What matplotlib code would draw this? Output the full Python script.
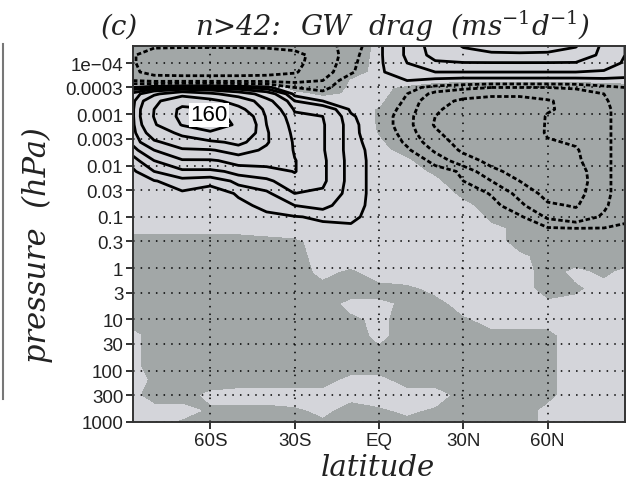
import numpy as np
import matplotlib
matplotlib.use("Agg")
import matplotlib.pyplot as plt
from matplotlib.lines import Line2D

# latitude columns (deg) and pressure rows (hPa)
lat = [-87.5, -80, -70, -60, -50, -40, -30, -20, -10, 0, 10, 20, 30, 40, 50, 60, 70, 80, 87.5]
plev = [4.5e-5, 7e-5, 1e-4, 1.5e-4, 2.2e-4, 3e-4, 4e-4, 5.5e-4, 8e-4, 1.1e-3, 1.6e-3, 2.3e-3,
        3.5e-3, 5e-3, 8e-3, 1.3e-2, 2e-2, 3.5e-2, 6e-2, 0.1, 0.17, 0.3, 0.6, 1.2, 2.5, 5, 10,
        20, 40, 80, 150, 300, 600, 1000]

# zonal mean GW drag (m/s/day), one row per pressure level
gw = [
    [-9, -9, -9, -9, -9, -9, -8, -5.5, -4.5, 1.5, 5.5, 13, 21, 24, 24, 24, 21, 8, 5],
    [-9.5, -13, -14, -14, -14, -13, -12, -7, -3.5, 1.5, 5.5, 12, 16, 18, 18.5, 18, 15, 8, 5],
    [-9.5, -13, -14, -14, -14, -13.5, -11.5, -7, -3, 1.5, 5, 9, 9.5, 9.5, 9.5, 9.5, 9.5, 7, 4.5],
    [-9, -12, -12.5, -12.5, -12.5, -12, -10.5, -6.5, -2.5, 1.5, 4, 5, 5, 5, 5, 5, 5, 4.5, 3.5],
    [-5, -6, -6, -6, -6, -6, -6, -5, 0.2, 1, 2, 1, 0.5, 0.5, 0.5, 0.5, 0.5, 1, 1],
    [2, 4, 5, 5, 4, 3, -2, -3, 0.5, 1, -1, -3, -4, -5, -5, -5, -4.5, -3, -2],
    [12, 35, 60, 45, 28, 14, 1, -1, 0.5, 1, -2, -6, -8, -9, -9, -8, -7, -5, -3],
    [16, 65, 130, 95, 60, 24, 5, 2, 1, 0.5, -2.5, -8, -11, -12, -12, -10.5, -8, -5.5, -3],
    [18, 80, 178, 165, 95, 31, 9, 8, 1.5, -0.3, -3, -9, -13, -14, -14, -10.5, -8.5, -6, -3],
    [18, 82, 182, 200, 130, 36, 12, 10, 2.5, -0.5, -3.5, -10, -14, -15, -15, -9.5, -9, -6, -3],
    [17, 72, 165, 195, 150, 40, 14, 10.5, 3, -0.5, -3.5, -10.5, -14, -15, -14, -9.5, -9, -6, -3],
    [15, 55, 90, 150, 140, 42, 16, 10.5, 3, -0.3, -3, -9, -14, -15, -13.5, -9.5, -9.5, -6, -3],
    [12, 35, 55, 65, 95, 42, 18, 10.5, 3, 0.5, -2.5, -7, -12.5, -15, -14, -10.5, -9.5, -6, -3],
    [7, 20, 36, 38, 50, 36, 19, 10.5, 3, 1, -1.5, -5.5, -11, -14, -14.5, -12, -10.5, -6, -3],
    [3, 10, 18, 18, 25, 25, 20.5, 11, 3.2, 1, 0.5, -3, -7, -12, -15, -14, -11, -6, -3],
    [1.5, 5, 8, 8, 12, 15, 20.5, 11, 3.2, 1, 1, -0.5, -2.5, -8, -13, -15, -12.5, -6, -3],
    [1, 1.8, 3.5, 2.5, 6, 8, 16, 11, 3.2, 1, 1, 0.5, -2, -5, -10, -14, -13, -6, -3],
    [1, 1.5, 1.5, 1, 2.2, 4, 10, 9, 3.2, 1, 1, 1, -0.5, -2.2, -6, -12, -12, -6, -3],
    [1, 1, 1, 1, 1.5, 2.5, 5, 6, 3, 1, 1, 1, 0.5, -1, -4, -9, -10.5, -5.5, -3],
    [0.5, 1, 1, 1, 1, 1.5, 1.8, 2.5, 2.5, 1, 1, 1, 1.5, -0.5, -1.5, -5.5, -7, -4.5, -2.5],
    [0.5, 0.5, 0.5, 0.5, 0.5, 1, 1, 1, 1.5, 1, 1, 1, 1, 0.5, -0.5, -1.5, -1.8, -1.8, -1.5],
    [-1, -1, -1, -1, -1, -1, -0.5, 1, 1, 1, 1, 1, 1, 1, -1, -1, -1, -1, -1],
    [-1, -1, -1, -1, -1, -1, -1, 1, 1, 1, 1, 1, 1, 1, 0.5, -1, -1, -1, -1],
    [-1, -1, -1, -1, -1, -1, -1, 0.5, -0.5, 1, 1, 1, 1, 1, 1, -1, 0.5, -0.5, 0.5],
    [-1, -1, -1, -1, -1, -1, -1, -1, -1, -1, -0.5, 0.5, 1, 1, 1, -1, -0.5, 1, 1],
    [-1, -1, -1, -1, -1, -1, -1, -1, 0.5, 0.5, -0.5, -1, 1, 1, 1, 0.5, 1, 1, 1],
    [-1, -1, -1, -1, -1, -1, -1, -1, -0.5, 0.5, -1, -1, -0.5, 1, 1, 0.5, 1, 1, 1],
    [0.5, -1, -1, -1, -1, -1, -1, -1, -1, 0.5, -1, -1, -1, -1, -1, -0.5, 1, 1, 1],
    [0.5, -1, -1, -1, -1, -1, -1, -1, -1, -0.5, -1, -1, -1, -1, -1, -0.5, 1, 1, 1],
    [0.5, -1, -1, -1, -1, -1, -1, -1, -1, -1, -1, -1, -1, -1, -1, -0.5, 1, 1, 1],
    [1, -0.5, -1, -1, -1, -1, -1, -1, 0.5, 0.5, -1, -1, -1, -1, -1, -0.5, 1, 1, 1],
    [0.5, -1, -1, 0.5, 1, 1, 1, 1, 0.5, 1, 1, 1, -1, -1, -1, -0.5, 1, 1, 1],
    [1, 1, 1, -0.5, -1, -1, -0.5, 0.5, -1, -0.5, 0.5, -0.5, -1, -1, -1, 0.5, 1, 1, 1],
    [1, 1, -0.5, -1, -1, -1, -1, -0.5, -1, -1, -1, -1, -1, -1, -1, 0.5, 1, 1, 1],
]

pos_levels = [2, 5, 10, 20, 40, 80]
label_level = 160
neg_levels = [-10, -5, -2]
yticks = [1e-4, 3e-4, 1e-3, 3e-3, 0.01, 0.03, 0.1, 0.3, 1, 3, 10, 30, 100, 300, 1000]
ytick_labels = ['1e\u221204', '0.0003', '0.001', '0.003', '0.01', '0.03', '0.1', '0.3',
                '1', '3', '10', '30', '100', '300', '1000']
xticks = [-60, -30, 0, 30, 60]
xtick_labels = ['60S', '30S', 'EQ', '30N', '60N']

plt.rcParams['mathtext.fontset'] = 'dejavuserif'

W, H = 631, 485
fig = plt.figure(figsize=(W / 100, H / 100), dpi=100)
ax = fig.add_axes([133 / W, 1 - 423 / H, (625 - 133) / W, (423 - 47) / H])

x = np.array(lat)
y = np.array(plev)
z = np.array(gw)

# shading: dark grey for negative, light grey for positive
ax.contourf(x, y, z, levels=[-1000, 0, 1000], colors=['#a2a7a7', '#d4d5da'])

ax.contour(x, y, z, levels=pos_levels, colors='k', linewidths=2.0)
cs160 = ax.contour(x, y, z, levels=[label_level], colors='k', linewidths=2.0)
cs_neg = ax.contour(x, y, z, levels=neg_levels, colors='k', linewidths=2.0)
cs_neg.set_linestyle((0, (1.6, 0.9)))

labs = ax.clabel(cs160, manual=[(-60, 1.03e-3)], fmt='%d', fontsize=16, inline=False)
for t in labs:
    t.set_rotation(0)
    t.set_position((-60.5, 1.02e-3))
    t.set_family('Liberation Sans')
    t.set_zorder(5)
    t.set_bbox(dict(facecolor='white', edgecolor='none', pad=1.2))

ax.set_yscale('log')
ax.set_ylim(1000, 4.66e-5)
ax.set_xlim(-87.5, 87.5)
ax.set_yticks(yticks)
ax.set_yticklabels(ytick_labels)
ax.yaxis.set_minor_locator(matplotlib.ticker.NullLocator())
ax.set_xticks(xticks)
ax.set_xticklabels(xtick_labels)
ax.tick_params(direction='out', length=5, width=1.3, labelsize=13.5, pad=2, color='#222222')
for lab in ax.get_xticklabels() + ax.get_yticklabels():
    lab.set_family('Liberation Sans')
    lab.set_color('#222222')

ax.grid(True, color='k', linestyle=(0, (1, 4)), linewidth=1.1)
for s in ax.spines.values():
    s.set_linewidth(1.4)
    s.set_color('#333333')

tfont = dict(family='DejaVu Serif', style='italic', color='#222222')
title_parts = ['(c)', 'n>42:', 'GW', 'drag', r'(ms$^{-1}$d$^{-1}$)']
title_x = [101, 195, 300, 368, 450]
for part, px in zip(title_parts, title_x):
    fig.text(px / W, 1 - 35 / H, part, fontsize=20, ha='left', va='baseline', **tfont)
fig.text(378 / W, 1 - 476 / H, 'latitude', fontsize=21, ha='center', va='baseline', **tfont)
fig.text(37 / W, 1 - 245 / H, 'pressure  (hPa)', fontsize=22, ha='center', va='center',
         rotation=90, **tfont)

# thin edge line left by the panel crop
fig.add_artist(Line2D([2.5 / W, 2.5 / W], [1 - 45 / H, 1 - 400 / H], color='#777777', lw=1.5))

fig.savefig('out.png', dpi=100)
